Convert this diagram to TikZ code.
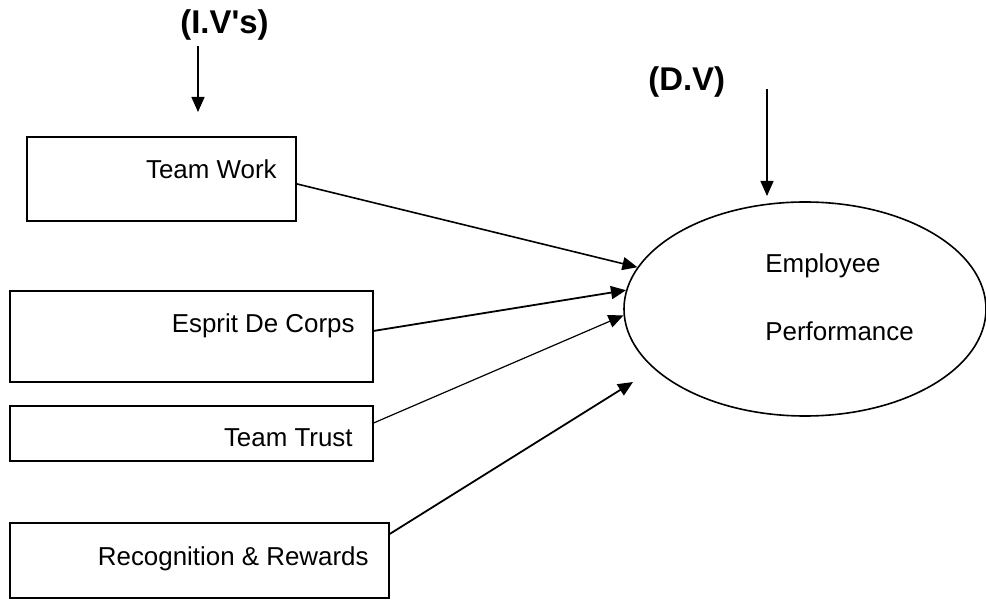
\documentclass[tikz,border=0pt]{standalone}
\usepackage{fontspec}
\setmainfont{Liberation Sans}[Ligatures=TeXOff]
\usetikzlibrary{arrows.meta,shapes.geometric}
\begin{document}
\begin{tikzpicture}[x=0.5bp,y=-0.5bp,
  box/.style={draw,line width=0.9bp,inner sep=0pt,anchor=north west},
  lbl/.style={font=\fontsize{13}{15}\selectfont,inner sep=0pt},
  head/.style={font=\bfseries\fontsize{16.5}{19}\selectfont,inner sep=0pt},
  link/.style={line width=0.8bp,-{Triangle[length=7.5bp,width=6.5bp]}}]
\useasboundingbox (0,0) rectangle (986,601);

% independent variables
\node[box,minimum width=134.5bp,minimum height=42bp] (tw) at (26,136) {};
\node[box,minimum width=181.5bp,minimum height=45.5bp] (edc) at (9,290) {};
\node[box,minimum width=181.5bp,minimum height=27.5bp] (tt) at (9,405) {};
\node[box,minimum width=189.5bp,minimum height=37.5bp] (rr) at (9,522) {};

\node[lbl,anchor=base east] (twl) at (277,178.5) {Team Work};
\node[lbl,anchor=base east] (edcl) at (355,333) {Esprit De Corps};
\node[lbl,anchor=base east] (ttl) at (353,446.5) {Team Trust};
\node[lbl,anchor=base east] (rrl) at (369,566) {Recognition \& Rewards};

% dependent variable
\node[draw,ellipse,line width=0.8bp,inner sep=0pt,minimum width=181bp,minimum height=107bp] (emp) at (805,309) {};
\node[lbl,anchor=base west] (empa) at (765,272.5) {Employee};
\node[lbl,anchor=base west] (empb) at (765,341) {Performance};

% headings
\node[head,anchor=base west] (iv) at (180,33.5) {(I.V's)};
\node[head,anchor=base west] (dv) at (648,90.5) {(D.V)};

\coordinate (ivs) at (198,46);
\coordinate (ive) at (198,112);
\coordinate (dvs) at (767,89);
\coordinate (dve) at (767,196);
\coordinate (rre) at (633,382);

\draw[link,line width=0.7bp] (ivs) -- (ive);
\draw[link,line width=0.7bp] (dvs) -- (dve);

% links into the ellipse
\draw[link] ([yshift=-2.5bp]tw.east) -- (emp.166.5);
\draw[link,line width=0.9bp] ([yshift=2.75bp]edc.east) -- (emp.174);
\draw[link,line width=0.6bp] ([yshift=5.25bp]tt.east) -- (emp.182.7);
\draw[link,line width=0.9bp] ([yshift=13.25bp]rr.east) -- (rre);
\end{tikzpicture}
\end{document}
